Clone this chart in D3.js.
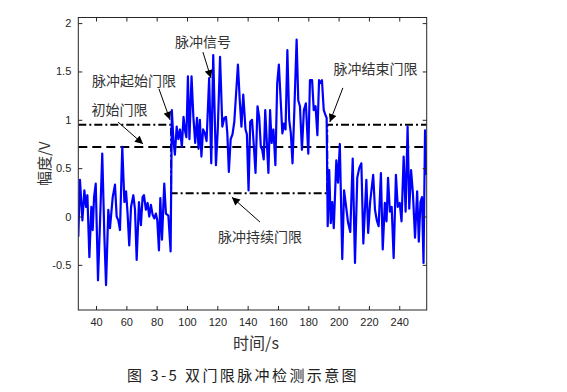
<!DOCTYPE html>
<html><head><meta charset="utf-8">
<script src="https://cdn.jsdelivr.net/npm/d3@7"></script>
<style>
html,body{margin:0;padding:0;background:#fff;}
svg{display:block;}
</style></head>
<body>
<svg id="c" width="567" height="392"></svg>
<script>
// ---- data ----
const time = [28.3,29.4,31.0,32.3,33.4,34.3,35.6,36.9,37.8,38.7,39.8,41.3,42.6,44.1,45.5,46.6,48.1,49.2,51.0,52.5,53.6,54.7,55.8,57.3,58.7,59.8,60.8,61.9,63.1,64.6,65.7,66.8,68.3,69.6,70.7,71.6,72.9,74.0,75.1,76.2,77.3,78.4,79.5,80.4,81.5,82.4,83.5,85.0,86.1,87.7,89.2,
90.0,91.0,92.0,93.2,94.3,95.4,96.6,97.7,98.8,99.6,100.6,101.6,103.0,104.2,105.4,106.6,107.6,108.5,109.5,110.6,111.8,112.9,114.6,116.0,117.3,119.1,120.3,121.8,123.3,124.6,125.7,126.6,127.6,128.8,130.0,131.2,132.5,133.6,134.8,135.9,137.1,138.6,139.5,140.6,141.7,142.9,144.0,145.2,146.5,147.6,148.7,149.6,150.6,151.6,152.6,153.7,154.8,155.8,157.0,158.3,159.5,160.6,161.8,162.9,164.0,165.0,166.2,167.4,168.5,169.6,170.8,172.3,173.4,174.5,175.8,177.1,178.4,180.0,181.1,182.5,183.6,184.8,186.0,187.1,188.0,189.0,190.2,191.3,192.1,
192.8,193.8,194.8,195.8,196.8,198.5,199.6,200.8,202.4,203.6,204.8,206.2,207.7,209.3,210.8,212.3,213.6,215.0,216.3,218.3,219.5,220.8,222.8,224.0,225.2,226.4,227.9,229.1,230.5,231.6,232.6,233.8,235.0,236.3,237.8,239.0,240.3,241.5,242.9,244.2,245.5,246.6,247.8,249.0,250.4,251.8,252.9,254.0,255.0,256.0,257.0,258.0];
const amplitude = [-0.21,0.38,-0.04,0.27,0.10,0.22,-0.42,0.10,-0.14,0.20,0.34,-0.66,-0.07,0.65,-0.21,-0.71,0.07,-0.12,0.20,0.33,0.00,-0.04,-0.14,0.72,0.15,0.26,0.03,-0.30,0.10,0.22,0.07,-0.45,0.15,-0.09,0.20,0.22,0.07,0.14,0.00,0.12,0.02,-0.02,0.03,-0.04,-0.35,0.19,-0.24,0.34,0.03,0.01,-0.36,
1.10,0.80,0.64,0.93,0.80,0.90,0.72,1.03,0.88,0.82,1.45,0.80,1.45,1.03,0.76,1.02,0.70,1.00,0.62,0.90,0.86,0.78,1.43,0.55,1.67,0.53,0.90,1.65,0.93,1.02,1.03,0.86,0.46,0.80,0.85,0.98,1.30,1.57,1.20,0.93,1.26,0.90,0.85,0.27,0.98,1.00,0.75,0.45,1.14,1.03,0.72,0.69,0.59,1.10,0.78,0.45,1.10,0.76,0.90,0.53,1.38,1.57,1.20,0.86,0.96,0.90,1.72,1.00,0.86,0.55,1.10,1.83,1.20,1.14,0.69,1.10,1.17,0.65,1.41,1.41,1.10,1.14,0.84,1.41,1.38,1.41,1.10,1.05,1.02,
-0.10,0.48,-0.07,0.15,-0.12,0.58,0.35,0.75,-0.44,0.27,0.12,-0.06,-0.16,0.60,-0.48,0.40,0.50,0.55,-0.28,0.38,-0.17,0.15,0.43,0.07,-0.04,-0.10,0.45,-0.34,0.14,-0.05,0.40,0.05,0.10,-0.43,0.43,0.10,0.14,-0.05,0.62,0.05,0.93,0.08,0.48,0.24,-0.22,0.26,-0.26,0.15,0.20,-0.48,0.89,0.43];

const xTicks = [40,60,80,100,120,140,160,180,200,220,240];
const yTicks = [-0.5,0,0.5,1,1.5,2];
const yTickLabels = ["-0.5","0","0.5","1","1.5","2"];

const initialThreshold = 0.72;      // 初始门限 (dashed)
const startThreshold = 0.95;        // 脉冲起始/结束门限
const holdThreshold = 0.24;         // 脉冲持续门限
const pulseStart = 89.5, pulseEnd = 192.5;
const gateT = [28.3, pulseStart, pulseStart, pulseEnd, pulseEnd, 258.1];
const gateV = [startThreshold, startThreshold, holdThreshold, holdThreshold, startThreshold, startThreshold];

const annLabels = ["脉冲信号","脉冲起始门限","初始门限","脉冲结束门限","脉冲持续门限"];
const annTextT = [110.5, 65.1, 55.5, 224.3, 148.1];
const annTextV = [1.815, 1.41, 1.11, 1.54, -0.20];
const annFromT = [110.5, 81.5, 54.5, 202.8, 148.1];
const annFromV = [1.70, 1.32, 0.977, 1.33, -0.057];
const annToT   = [115.8, 88.8, 71.0, 194.2, 129.6];
const annToV   = [1.432, 1.00, 0.75, 0.977, 0.20];

// ---- layout ----
const svg = d3.select("#c");
const L = 78.3, R = 426.7, T = 17.5, B = 310;
const x = d3.scaleLinear().domain([28.3, 258.1]).range([L, R]);
const y = d3.scaleLinear().domain([-0.967, 2.058]).range([B, T]);

const clipId = "plotclip";
svg.append("defs").append("clipPath").attr("id", clipId)
  .append("rect").attr("x", L).attr("y", T).attr("width", R - L).attr("height", B - T);

svg.append("defs").append("marker").attr("id","ah")
  .attr("viewBox","0 0 10 10").attr("refX",10).attr("refY",5)
  .attr("markerWidth",9).attr("markerHeight",8).attr("markerUnits","userSpaceOnUse")
  .attr("orient","auto")
  .append("path").attr("d","M0,0 L10,5 L0,10 Z").attr("fill","#000");

const g = svg.append("g").attr("clip-path", `url(#${clipId})`);

// thresholds
g.append("line").attr("x1", L).attr("x2", R)
  .attr("y1", y(initialThreshold)).attr("y2", y(initialThreshold))
  .attr("stroke", "#000").attr("stroke-width", 2).attr("stroke-dasharray", "9,5");

const gateLine = d3.line().x((d,i)=>x(gateT[i])).y((d,i)=>y(gateV[i]));
g.append("path").attr("d", gateLine(gateT)).attr("fill","none")
  .attr("stroke","#000").attr("stroke-width",2).attr("stroke-dasharray","8,3,2,3");

// signal
const sigLine = d3.line().x((d,i)=>x(time[i])).y((d,i)=>y(amplitude[i]));
g.append("path").attr("d", sigLine(time)).attr("fill","none")
  .attr("stroke","#0000ff").attr("stroke-width",2.2).attr("stroke-linejoin","round");

// axes box
const axc = "#262626";
svg.append("rect").attr("x",L).attr("y",T).attr("width",R-L).attr("height",B-T)
  .attr("fill","none").attr("stroke",axc).attr("stroke-width",1);

const tk = 4;
const xb = svg.append("g").attr("transform",`translate(0,${B})`)
  .call(d3.axisBottom(x).tickValues(xTicks).tickSizeInner(-tk).tickSizeOuter(0).tickPadding(8));
const xt = svg.append("g").attr("transform",`translate(0,${T})`)
  .call(d3.axisTop(x).tickValues(xTicks).tickSizeInner(-tk).tickSizeOuter(0).tickFormat(""));
const yl = svg.append("g").attr("transform",`translate(${L},0)`)
  .call(d3.axisLeft(y).tickValues(yTicks).tickSizeInner(-tk).tickSizeOuter(0).tickPadding(7)
    .tickFormat((d,i)=>yTickLabels[i]));
const yr = svg.append("g").attr("transform",`translate(${R},0)`)
  .call(d3.axisRight(y).tickValues(yTicks).tickSizeInner(-tk).tickSizeOuter(0).tickFormat(""));
[xb,xt,yl,yr].forEach(a=>{
  a.select(".domain").remove();
  a.selectAll(".tick line").attr("stroke",axc);
  a.selectAll("text").attr("fill",axc).style("font-family","'Liberation Sans', Arial, sans-serif").style("font-size","11px");
});

// axis labels
svg.append("text").attr("x", 256).attr("y", 349).attr("text-anchor","middle")
  .style("font-family","'Noto Sans CJK SC', sans-serif").style("font-size","16px").attr("fill","#333")
  .text("时间/s");
svg.append("text").attr("transform",`translate(50,${(T+B)/2}) rotate(-90)`).attr("text-anchor","middle")
  .style("font-family","'Noto Sans CJK SC', sans-serif").style("font-size","15px").attr("fill","#333")
  .text("幅度/V");

// annotations
annLabels.forEach((lab,i)=>{
  svg.append("line").attr("x1",x(annFromT[i])).attr("y1",y(annFromV[i]))
    .attr("x2",x(annToT[i])).attr("y2",y(annToV[i]))
    .attr("stroke","#000").attr("stroke-width",1).attr("marker-end","url(#ah)");
  svg.append("text").attr("x",x(annTextT[i])).attr("y",y(annTextV[i]))
    .attr("text-anchor","middle").attr("dominant-baseline","central")
    .style("font-family","'Noto Sans CJK SC', sans-serif").style("font-size","14px").attr("fill","#333")
    .text(lab);
});

// caption
svg.append("text").attr("x", 127).attr("y", 381).attr("text-anchor","start")
  .style("font-family","'Noto Sans CJK SC', sans-serif").style("font-size","15px")
  .style("letter-spacing","2.4px").attr("fill","#222")
  .text("图 3-5 双门限脉冲检测示意图");
</script>
</body></html>
